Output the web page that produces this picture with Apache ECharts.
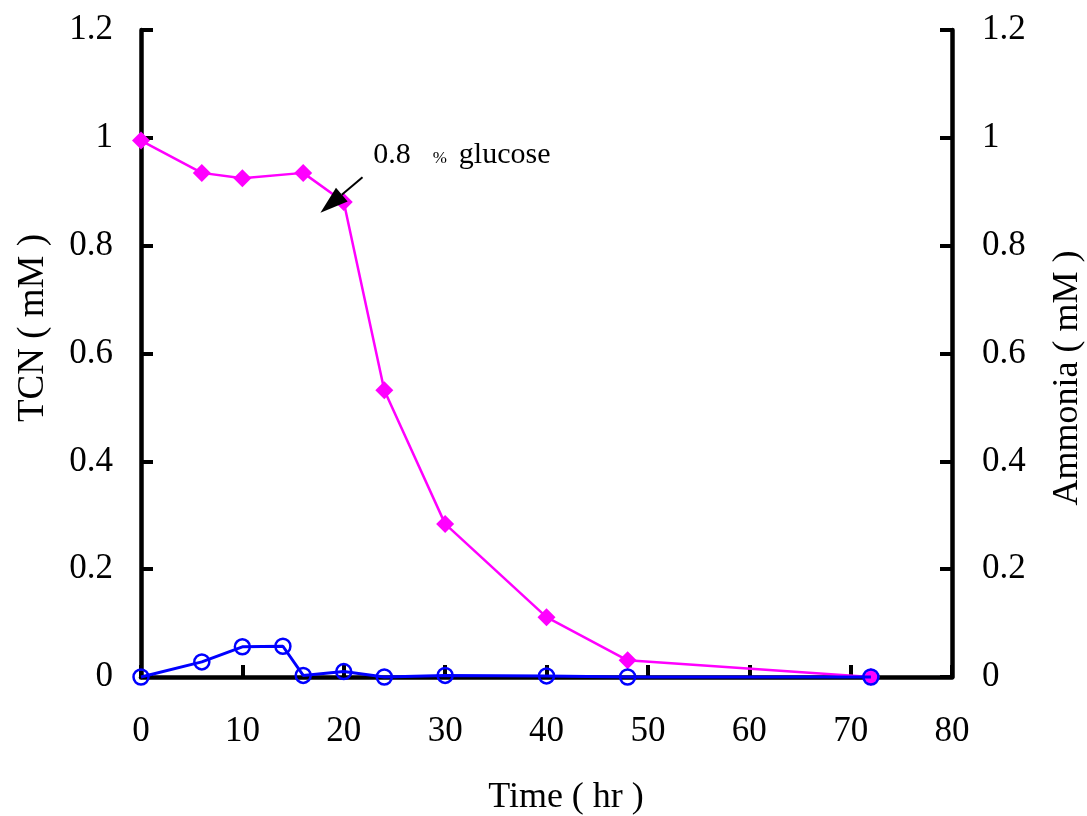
<!DOCTYPE html>
<html>
<head>
<meta charset="utf-8">
<script src="https://cdn.jsdelivr.net/npm/echarts@6/dist/echarts.min.js"></script>
<style>
  html, body { margin: 0; padding: 0; background: #fff; }
  #chart { width: 1087px; height: 816px; }
</style>
</head>
<body>
<div id="chart"></div>
<script>
// Sampling times (hr)
var timeTCN = [0, 6, 10, 16, 20, 24, 30, 40, 48, 72];
var tcn = [0.995, 0.935, 0.925, 0.935, 0.881, 0.532, 0.284, 0.111, 0.031, 0.0];

var timeNH3 = [0, 6, 10, 14, 16, 20, 24, 30, 40, 48, 72];
var ammonia = [0.0, 0.028, 0.056, 0.057, 0.003, 0.010, 0.0, 0.003, 0.002, 0.0, 0.0];

var xTicks = { min: 0, max: 80, interval: 10 };
var yTicks = { min: 0, max: 1.2, interval: 0.2 };

var FONT = '"Liberation Serif", "Times New Roman", serif';

function pairs(xs, ys) {
  return xs.map(function (x, i) { return [x, ys[i]]; });
}

var axisLineStyle = { color: '#000', width: 4.5 };
var tickStyle = { show: true, inside: true, length: 12, lineStyle: { color: '#000', width: 4 } };

var chart = echarts.init(document.getElementById('chart'), null, { renderer: 'canvas' });

var option = {
  backgroundColor: '#fff',
  animation: false,
  grid: { left: 141, right: 135, top: 30, bottom: 139, containLabel: false },
  xAxis: {
    type: 'value',
    min: xTicks.min, max: xTicks.max, interval: xTicks.interval,
    axisLine: { show: true, onZero: false, lineStyle: axisLineStyle },
    axisTick: tickStyle,
    splitLine: { show: false },
    axisLabel: { color: '#000', fontFamily: FONT, fontSize: 35, margin: 37 }
  },
  yAxis: [
    {
      type: 'value', position: 'left',
      min: yTicks.min, max: yTicks.max, interval: yTicks.interval,
      axisLine: { show: true, onZero: false, lineStyle: axisLineStyle },
      axisTick: tickStyle,
      splitLine: { show: false },
      axisLabel: { color: '#000', fontFamily: FONT, fontSize: 35, margin: 28 }
    },
    {
      type: 'value', position: 'right',
      min: yTicks.min, max: yTicks.max, interval: yTicks.interval,
      axisLine: { show: true, onZero: false, lineStyle: axisLineStyle },
      axisTick: tickStyle,
      splitLine: { show: false },
      axisLabel: { color: '#000', fontFamily: FONT, fontSize: 35, margin: 30 }
    }
  ],
  series: [
    {
      name: 'TCN',
      type: 'line',
      yAxisIndex: 0,
      data: pairs(timeTCN, tcn),
      symbol: 'diamond',
      symbolSize: 18,
      clip: false,
      lineStyle: { color: '#ff00ff', width: 2.5 },
      itemStyle: { color: '#ff00ff' },
      z: 3
    },
    {
      name: 'Ammonia',
      type: 'line',
      yAxisIndex: 1,
      data: pairs(timeNH3, ammonia),
      symbol: 'circle',
      symbolSize: 15,
      showAllSymbol: true,
      clip: false,
      lineStyle: { color: '#0000ff', width: 3 },
      itemStyle: { color: 'rgba(0,0,0,0)', borderColor: '#0000ff', borderWidth: 2.5 },
      z: 4
    }
  ]
};

chart.setOption(option);

// Axis titles and the glucose-addition annotation
function addOverlay() {
  var tip = chart.convertToPixel({ gridIndex: 0 }, [17.7, 0.861]);
  var tail = chart.convertToPixel({ gridIndex: 0 }, [21.85, 0.927]);
  var textAt = chart.convertToPixel({ gridIndex: 0 }, [22.9, 0.968]);

  var dx = tail[0] - tip[0], dy = tail[1] - tip[1];
  var len = Math.sqrt(dx * dx + dy * dy);
  var ux = dx / len, uy = dy / len;
  var headLen = 28, headHalf = 9;
  var bx = tip[0] + ux * headLen, by = tip[1] + uy * headLen;
  var px = -uy, py = ux;

  chart.setOption({
    graphic: [
      {
        type: 'line',
        shape: { x1: tail[0], y1: tail[1], x2: bx, y2: by },
        style: { stroke: '#000', lineWidth: 2 },
        z: 10
      },
      {
        type: 'polygon',
        shape: { points: [tip, [bx + px * headHalf, by + py * headHalf], [bx - px * headHalf, by - py * headHalf]] },
        style: { fill: '#000' },
        z: 10
      },
      {
        type: 'text',
        x: textAt[0], y: textAt[1],
        style: {
          text: '{a|0.8}{gap| }{p|%}{gap2| }{a|glucose}',
          verticalAlign: 'middle',
          align: 'left',
          rich: {
            a: { fontFamily: FONT, fontSize: 30, fill: '#000', verticalAlign: 'bottom' },
            gap: { fontFamily: FONT, fontSize: 30, width: 22 },
            gap2: { fontFamily: FONT, fontSize: 30, width: 12 },
            p: { fontFamily: FONT, fontSize: 17, fill: '#000', verticalAlign: 'bottom', padding: [0, 0, 3, 0] }
          }
        },
        z: 10
      },
      {
        type: 'text',
        x: 33, y: 328, rotation: Math.PI / 2,
        style: { text: 'TCN ( mM )', fontFamily: FONT, fontSize: 37, fill: '#000', align: 'center', verticalAlign: 'middle' }
      },
      {
        type: 'text',
        x: 1068, y: 378, rotation: Math.PI / 2,
        style: { text: 'Ammonia ( mM )', fontFamily: FONT, fontSize: 36, fill: '#000', align: 'center', verticalAlign: 'middle' }
      },
      {
        type: 'text',
        x: 566, y: 798,
        style: { text: 'Time ( hr )', fontFamily: FONT, fontSize: 36, fill: '#000', align: 'center', verticalAlign: 'middle' }
      }
    ]
  });
}
addOverlay();
</script>
</body>
</html>
